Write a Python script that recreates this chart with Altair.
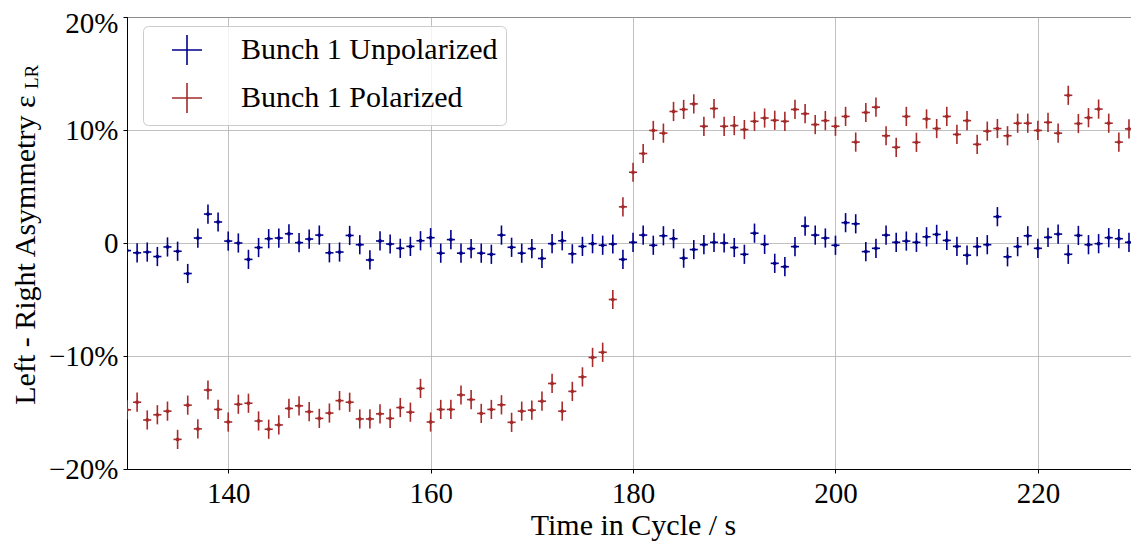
import altair as alt
import pandas as pd

TIME = list(range(130, 231))

UNPOL = [
    -0.67, -0.87, -0.8, -1.2, -0.35, -0.73, -2.7, 0.44, 2.56, 1.86,
    0.17, 0.0, -1.45, -0.4, 0.38, 0.44, 0.82, 0.03, 0.35, 0.7,
    -0.87, -0.8, 0.67, -0.15, -1.5, 0.18, -0.09, -0.47, -0.3, 0.2,
    0.47, -0.9, 0.3, -0.9, -0.5, -0.9, -1.0, 0.7, -0.38, -0.9,
    -0.5, -1.37, -0.06, 0.2, -0.96, -0.3, -0.06, -0.2, -0.09, -1.45,
    0.06, 0.7, -0.2, 0.64, 0.38, -1.34, -0.58, -0.15, 0.06, 0.0,
    -0.4, -1.0, 0.87, -0.12, -1.8, -2.1, -0.32, 1.5, 0.7, 0.44,
    -0.2, 1.8, 1.7, -0.76, -0.47, 0.7, 0.06, 0.17, 0.06, 0.55,
    0.76, 0.23, -0.3, -1.08, -0.32, -0.15, 2.33, -1.22, -0.32, 0.64,
    -0.47, 0.5, 0.79, -1.0, 0.67, -0.15, -0.06, 0.47, 0.38, 0.06,
    -0.09,
]

POL = [
    -14.76, -14.09, -15.66, -15.2, -14.88, -17.38, -14.35, -16.45, -13.01, -14.73,
    -15.84, -14.27, -14.18, -15.75, -16.48, -16.1, -14.64, -14.41, -14.93, -15.52,
    -15.05, -13.95, -14.09, -15.57, -15.57, -15.12, -15.52, -14.56, -14.97, -12.87,
    -15.84, -14.73, -14.73, -13.45, -13.86, -15.08, -14.73, -14.32, -15.87, -14.88,
    -14.79, -14.0, -12.43, -14.88, -13.13, -11.85, -10.13, -9.67, -5.0, 3.2,
    6.26, 7.92, 9.96, 9.72, 11.64, 11.82, 12.31, 10.33, 11.9, 10.33,
    10.39, 10.04, 10.77, 11.06, 10.86, 10.77, 11.82, 11.44, 10.48, 10.83,
    10.33, 11.2, 8.93, 11.55, 12.02, 9.49, 8.47, 11.2, 8.91, 10.98,
    10.13, 11.2, 9.61, 10.83, 8.73, 9.9, 10.13, 9.49, 10.6, 10.6,
    9.96, 10.68, 9.72, 13.07, 10.57, 11.09, 11.85, 10.6, 8.93, 10.1,
    9.46,
]

Y_ERR = 0.85
X_ERR = 0.4
SERIES = ["Bunch 1 Unpolarized", "Bunch 1 Polarized"]
COLORS = ["#00008b", "#a52a2a"]
X_TICKS = [140, 160, 180, 200, 220]
Y_TICKS = [-20, -10, 0, 10, 20]
X_DOMAIN = [130, 229.2]

rows = []
for name, vals in zip(SERIES, [UNPOL, POL]):
    for t, v in zip(TIME, vals):
        rows.append(dict(series=name, t=t, v=v, vlo=v - Y_ERR, vhi=v + Y_ERR,
                         tlo=t - X_ERR, thi=t + X_ERR))
df = pd.DataFrame(rows)

FONT = "Liberation Serif"
xscale = alt.Scale(domain=X_DOMAIN, nice=False, zero=False)
yscale = alt.Scale(domain=[-20, 20], nice=False)

xaxis = alt.Axis(values=X_TICKS, title="Time in Cycle / s", labelBaseline="alphabetic",
                 labelPadding=29, titleBaseline="alphabetic", titleY=65, titleX=506)
yaxis = alt.Axis(values=Y_TICKS, title="Left - Right Asymmetry ε",
                 labelExpr="datum.value == 0 ? '0' : (datum.value < 0 ? '−' + abs(datum.value) : '' + datum.value) + '%'",
                 labelOffset={"condition": {"test": "datum.value == 20", "value": 6}, "value": 0},
                 labelPadding=5, titleAngle=270, titleAlign="right",
                 titleBaseline="alphabetic", titleX=-93, titleY=78)

legend = alt.Legend(title=None, orient="none", legendX=16, legendY=9,
                    labelFont=FONT, labelFontSize=30, labelColor="black", labelLimit=0,
                    symbolType="M-1,0L1,0M0,-1L0,1", symbolSize=900,
                    symbolStrokeWidth=1.6, padding=8, rowPadding=10,
                    symbolOffset=20, labelOffset=38,
                    fillColor="rgba(255,255,255,0.8)", strokeColor="#cccccc",
                    cornerRadius=5)

color_main = alt.Color("series:N", scale=alt.Scale(domain=SERIES, range=COLORS),
                       sort=SERIES, legend=legend)
color_nol = alt.Color("series:N", legend=None)

base = alt.Chart(df)
vbars = base.mark_rule(strokeWidth=1.6, clip=True).encode(
    x=alt.X("t:Q", scale=xscale, axis=xaxis),
    y=alt.Y("vlo:Q", scale=yscale, axis=yaxis),
    y2="vhi:Q",
    color=color_main,
)
hbars = base.mark_rule(strokeWidth=1.6, clip=True).encode(
    x=alt.X("tlo:Q", title="Time in Cycle / s"),
    x2="thi:Q",
    y=alt.Y("v:Q", title="Left - Right Asymmetry ε"),
    color=color_nol,
)
pts = base.mark_point(filled=True, size=14, opacity=1, clip=True).encode(
    x=alt.X("t:Q", title="Time in Cycle / s"),
    y=alt.Y("v:Q", title="Left - Right Asymmetry ε"),
    color=color_nol,
)
sub = alt.Chart(pd.DataFrame({"s": ["LR"]})).mark_text(
    angle=270, align="left", baseline="alphabetic", font=FONT, fontSize=19, color="black"
).encode(x=alt.value(-89), y=alt.value(72), text="s:N")

chart = alt.layer(vbars, hbars, pts, sub).properties(
    width=1004, height=452,
    autosize=alt.AutoSizeParams(type="none"),
    padding={"left": 119, "top": 9, "right": 0, "bottom": 77},
).configure_view(
    stroke="black", strokeWidth=1
).configure_axis(
    domainColor="black", domainWidth=1, tickColor="black", tickSize=4, tickWidth=1,
    gridColor="#b0b0b0", gridWidth=0.8,
    labelFont=FONT, labelFontSize=29, labelColor="black",
    titleFont=FONT, titleFontSize=30, titleFontWeight="normal", titleColor="black",
)

chart.save("out.html", embed_options={"renderer": "svg", "actions": False})
